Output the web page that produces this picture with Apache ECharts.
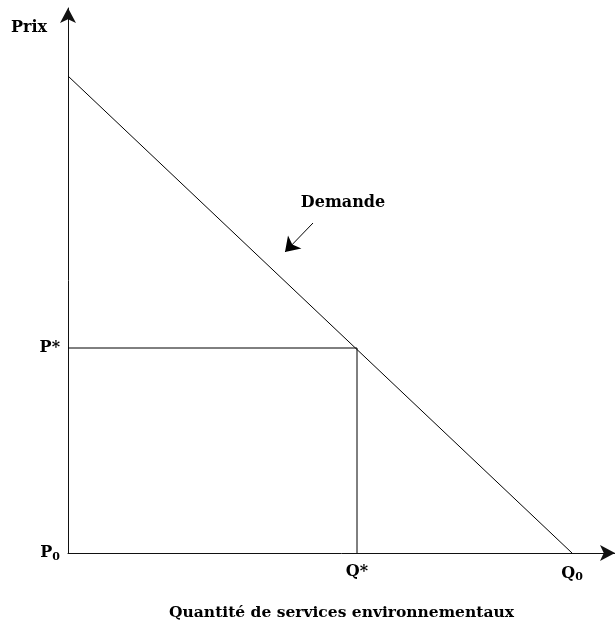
<!DOCTYPE html>
<html>
<head>
<meta charset="utf-8">
<script src="https://cdn.jsdelivr.net/npm/echarts@6/dist/echarts.min.js"></script>
<style>html,body{margin:0;padding:0;background:#fff;}#c{width:615px;height:623px;}</style>
</head>
<body>
<div id="c"></div>
<script>
// Demand curve (quantity, price)
const demandQ = [0, 504];
const demandP = [477, 0];
// Equilibrium guide lines
const guideQ = [0, 289, 289];
const guideP = [205, 205, 0];
// Tick labels
const xTickValues = [289, 504];
const xTickLabels = ['Q*', 'Q{s|0}'];
const yTickValues = [0, 205];
const yTickLabels = ['P{s|0}', 'P*'];
// Annotation arrow (from, to) and label
const annotFrom = [245, 330];
const annotTo = [217, 301];
const annotLabelPos = [275, 350];
const annotLabel = 'Demande';
const xName = 'Quantité de services environnementaux';
const yName = 'Prix';

const FONT = 'DejaVu Serif';
const chart = echarts.init(document.getElementById('c'), null, {renderer: 'canvas'});
const rich = {s: {fontSize: 11, fontWeight: 'bold', fontFamily: FONT, padding: [8, 0, 0, 0], color: '#000'}};
chart.setOption({
  animation: false,
  grid: {left: 68, right: 0, top: 8, bottom: 70, containLabel: false, outerBoundsMode: 'none'},
  xAxis: {
    type: 'value', min: 0, max: 547,
    splitLine: {show: false},
    axisTick: {show: false},
    axisLine: {show: true, onZero: false, lineStyle: {color: '#111', width: 1}, symbol: ['none', 'arrow'], symbolSize: [12, 15]},
    axisLabel: {
      customValues: xTickValues, margin: 11,
      formatter: v => xTickLabels[xTickValues.indexOf(v)],
      fontFamily: FONT, fontWeight: 'bold', fontSize: 16, color: '#000', rich
    },
    name: xName, nameLocation: 'middle', nameGap: 52,
    nameTextStyle: {fontFamily: FONT, fontWeight: 'bold', fontSize: 15.5, color: '#000'}
  },
  yAxis: {
    type: 'value', min: 0, max: 545,
    splitLine: {show: false},
    axisTick: {show: false},
    axisLine: {show: true, onZero: false, lineStyle: {color: '#111', width: 1}, symbol: ['none', 'arrow'], symbolSize: [12, 15]},
    axisLabel: {
      customValues: yTickValues, margin: 8, showMinLabel: true,
      formatter: v => yTickLabels[yTickValues.indexOf(v)],
      fontFamily: FONT, fontWeight: 'bold', fontSize: 16, color: '#000', rich
    }
  },
  graphic: [{
    type: 'text', left: 11, top: 20,
    style: {text: yName, font: 'bold 16px "' + FONT + '"', fill: '#000'}
  }],
  series: [
    {type: 'line', data: demandQ.map((q, i) => [q, demandP[i]]), symbol: 'none',
     lineStyle: {color: '#000', width: 1}, silent: true},
    {type: 'line', data: guideQ.map((q, i) => [q, guideP[i]]), symbol: 'none',
     lineStyle: {color: '#000', width: 1}, silent: true},
    {type: 'lines', coordinateSystem: 'cartesian2d', symbol: ['none', 'arrow'], symbolSize: 14,
     lineStyle: {color: '#000', width: 1, opacity: 1},
     data: [{coords: [annotFrom, annotTo]}], silent: true},
    {type: 'scatter', data: [annotLabelPos], symbolSize: 0, silent: true,
     itemStyle: {opacity: 1},
     label: {show: true, position: 'inside', formatter: annotLabel, fontFamily: FONT, fontWeight: 'bold', fontSize: 16, color: '#000', opacity: 1}}
  ]
});
</script>
</body>
</html>
